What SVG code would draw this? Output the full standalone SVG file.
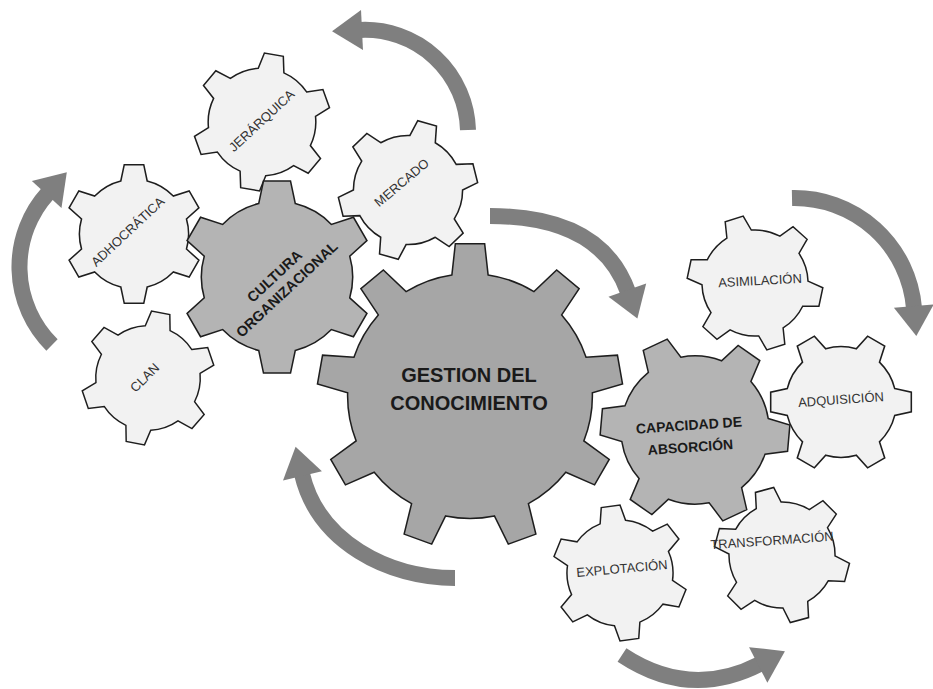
<svg xmlns="http://www.w3.org/2000/svg" xmlns:xlink="http://www.w3.org/1999/xlink" width="933" height="689" viewBox="0 0 933 689">
<style>
.light{fill:#f2f2f2;stroke:#1e1e1e;stroke-linejoin:miter}
.dark{fill:#b4b4b4;stroke:#1e1e1e}
.main{fill:#a6a6a6;stroke:#1e1e1e}
.lt{font-family:"Liberation Sans",Arial,sans-serif;font-size:13px;fill:#333333;text-anchor:middle}
.dk{font-family:"Liberation Sans",Arial,sans-serif;font-weight:bold;fill:#1a1a1a;text-anchor:middle}
.arr{fill:none;stroke:#7f7f7f;stroke-width:16;marker-end:url(#ah)}
</style>
<defs>
<path id="g6" d="M75.68,-18.87 L99.03,-13.92 L99.03,13.92 L75.68,18.87 A78,78 0 0 1 54.18,56.10 L61.57,78.80 L37.47,92.72 L21.50,74.98 A78,78 0 0 1 -21.50,74.98 L-37.47,92.72 L-61.57,78.80 L-54.18,56.10 A78,78 0 0 1 -75.68,18.87 L-99.03,13.92 L-99.03,-13.92 L-75.68,-18.87 A78,78 0 0 1 -54.18,-56.10 L-61.57,-78.80 L-37.47,-92.72 L-21.50,-74.98 A78,78 0 0 1 21.50,-74.98 L37.47,-92.72 L61.57,-78.80 L54.18,-56.10 A78,78 0 0 1 75.68,-18.87 Z"/>
<marker id="ah" markerUnits="userSpaceOnUse" markerWidth="40" markerHeight="46" viewBox="0 -23 40 46" refX="2" refY="0" orient="auto" overflow="visible">
<path d="M0,-20 L30,0 L0,20 Z" fill="#7f7f7f"/>
</marker>
</defs>
<g id="connectors">
<path class="arr" d="M468,130 A103,103 0 0 0 360,30"/>
<path class="arr" d="M52,345 A110,110 0 0 1 48,193"/>
<path class="arr" d="M490,216 Q601,216 628,292"/>
<path class="arr" d="M792,198 A120,120 0 0 1 914,308"/>
<path class="arr" d="M622,655 Q690,700 760,664"/>
<path class="arr" d="M455,578 C388,578 318,542 302,474"/>
</g>
<g id="jerarquica">
<use href="#g6" class="light" stroke-width="2.2" transform="translate(262,122) rotate(-20) scale(0.69)"/>
<text class="lt" transform="translate(262,121) rotate(-43)" y="4">JERÁRQUICA</text>
</g>
<g id="mercado">
<use href="#g6" class="light" stroke-width="2.2" transform="translate(408,190) rotate(-14) scale(0.70)"/>
<text class="lt" transform="translate(402,183) rotate(-40)" y="4">MERCADO</text>
</g>
<g id="adhocratica">
<use href="#g6" class="light" stroke-width="2.2" transform="translate(134,234) rotate(30) scale(0.70)"/>
<text class="lt" transform="translate(128,232) rotate(-43)" y="4">ADHOCRÁTICA</text>
</g>
<g id="clan">
<use href="#g6" class="light" stroke-width="2.2" transform="translate(148,378) rotate(-19) scale(0.67)"/>
<text class="lt" transform="translate(145,378) rotate(-45)" y="4">CLAN</text>
</g>
<g id="cultura">
<use href="#g6" class="dark" stroke-width="1.6" transform="translate(277,277) rotate(30) scale(0.97)"/>
<text class="dk" font-size="14.5" transform="translate(280,282) rotate(-43)"><tspan x="0" y="-3">CULTURA</tspan><tspan x="0" y="15">ORGANIZACIONAL</tspan></text>
</g>
<g id="gestion">
<path class="main" stroke-width="1" transform="translate(470,396) scale(1.53)" d="M-11.83,-79.12 L-9.58,-99.54 L9.58,-99.54 L11.83,-79.12 A80,80 0 0 1 41.80,-68.21 L56.64,-82.41 L71.33,-70.09 L59.92,-53.01 A80,80 0 0 1 75.86,-25.38 L96.36,-26.72 L99.69,-7.85 L79.97,-2.09 A80,80 0 0 1 74.43,29.32 L91.00,41.47 L81.41,58.07 L62.61,49.80 A80,80 0 0 1 38.18,70.30 L43.05,90.26 L25.04,96.81 L15.95,78.39 A80,80 0 0 1 -15.95,78.39 L-25.04,96.81 L-43.05,90.26 L-38.18,70.30 A80,80 0 0 1 -62.61,49.80 L-81.41,58.07 L-91.00,41.47 L-74.43,29.32 A80,80 0 0 1 -79.97,-2.09 L-99.69,-7.85 L-96.36,-26.72 L-75.86,-25.38 A80,80 0 0 1 -59.92,-53.01 L-71.33,-70.09 L-56.64,-82.41 L-41.80,-68.21 A80,80 0 0 1 -11.83,-79.12 Z"/>
<text class="dk" font-size="20"><tspan x="469" y="382">GESTION DEL</tspan><tspan x="469" y="410">CONOCIMIENTO</tspan></text>
</g>
<g id="capacidad">
<use href="#g6" class="dark" stroke-width="1.6" transform="translate(695,430) rotate(5) scale(0.95)"/>
<text class="dk" font-size="14" transform="translate(690,441) rotate(-4)"><tspan x="0" y="-11">CAPACIDAD DE</tspan><tspan x="0" y="11">ABSORCIÓN</tspan></text>
</g>
<g id="asimilacion">
<use href="#g6" class="light" stroke-width="2.2" transform="translate(755,283) rotate(12) scale(0.68)"/>
<text class="lt" transform="translate(760,281) rotate(-3)" y="4">ASIMILACIÓN</text>
</g>
<g id="adquisicion">
<use href="#g6" class="light" stroke-width="2.2" transform="translate(841,402) scale(0.71)"/>
<text class="lt" transform="translate(841,400) rotate(-4)" y="4">ADQUISICIÓN</text>
</g>
<g id="explotacion">
<use href="#g6" class="light" stroke-width="2.2" transform="translate(620,573) rotate(22) scale(0.68)"/>
<text class="lt" font-size="12.5" transform="translate(622,569) rotate(-5)" y="4">EXPLOTACIÓN</text>
</g>
<g id="transformacion">
<use href="#g6" class="light" stroke-width="2.2" transform="translate(782,555) rotate(15) scale(0.68)"/>
<text class="lt" font-size="11.5" transform="translate(772,541) rotate(-4)" y="4">TRANSFORMACIÓN</text>
</g>
</svg>
